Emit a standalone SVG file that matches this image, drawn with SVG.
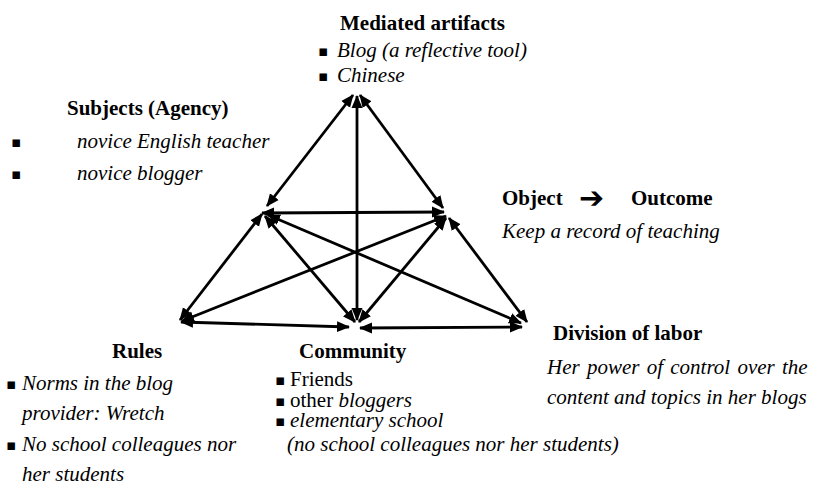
<svg xmlns="http://www.w3.org/2000/svg" width="819" height="486" viewBox="0 0 819 486" font-family="'Liberation Serif', 'Times New Roman', Times, 'DejaVu Serif', serif">
<style>
text{font-family:'Liberation Serif','Times New Roman',Times,'DejaVu Serif',serif;font-size:21px;fill:#000}
.b{font-weight:bold}
.i{font-style:italic}
.bu{font-family:'DejaVu Sans',sans-serif;font-size:15px}
.ar{font-family:'DejaVu Sans',sans-serif;font-size:30px;font-weight:bold}
.ed{fill:none;stroke:#000;stroke-width:2.8;marker-start:url(#ah);marker-end:url(#ah)}
</style>
<defs>
<marker id="ah" markerUnits="userSpaceOnUse" markerWidth="14" markerHeight="12" refX="12" refY="5.5" orient="auto-start-reverse" viewBox="0 0 14 11">
<path d="M0,0 L13,5.5 L0,11 Z" fill="#000"/>
</marker>
</defs>
<rect width="819" height="486" fill="#fff"/>
<g id="connectors">
<path class="ed" d="M353,95 L267,206"/>
<path class="ed" d="M360,95 L443,208"/>
<path class="ed" d="M357,96 L357,320"/>
<path class="ed" d="M262,213 L444,212"/>
<path class="ed" d="M262,214 L180,320"/>
<path class="ed" d="M265,216 L355,322"/>
<path class="ed" d="M268,215 L521,323"/>
<path class="ed" d="M446,216 L182,321"/>
<path class="ed" d="M446,218 L359,322"/>
<path class="ed" d="M449,218 L527,322"/>
<path class="ed" d="M181,322 L349,327"/>
<path class="ed" d="M360,328 L522,327"/>
</g>
<g id="mediated-artifacts">
<text class="b" x="340" y="30">Mediated artifacts</text>
<text class="bu" x="318" y="56">▪</text>
<text class="i" x="337" y="57">Blog (a reflective tool)</text>
<text class="bu" x="318" y="81">▪</text>
<text class="i" x="337" y="82">Chinese</text>
</g>
<g id="subjects">
<text class="b" x="67" y="115">Subjects (Agency)</text>
<text class="bu" x="11" y="147">▪</text>
<text class="i" x="77" y="148">novice English teacher</text>
<text class="bu" x="11" y="179">▪</text>
<text class="i" x="77" y="180">novice blogger</text>
</g>
<g id="object">
<text class="b" x="502" y="205">Object</text>
<text class="ar" x="579" y="208">➔</text>
<text class="b" x="631" y="205">Outcome</text>
<text class="i" x="502" y="238">Keep a record of teaching</text>
</g>
<g id="division-of-labor">
<text class="b" x="553" y="340">Division of labor</text>
<text class="i" x="547" y="374" word-spacing="2">Her power of control over the</text>
<text class="i" x="547" y="404">content and topics in her blogs</text>
</g>
<g id="rules">
<text class="b" x="112" y="358">Rules</text>
<text class="bu" x="6" y="389">▪</text>
<text class="i" x="22" y="390">Norms in the blog</text>
<text class="i" x="22" y="420">provider: Wretch</text>
<text class="bu" x="6" y="450">▪</text>
<text class="i" x="22" y="451">No school colleagues nor</text>
<text class="i" x="22" y="481">her students</text>
</g>
<g id="community">
<text class="b" x="299" y="358">Community</text>
<text class="bu" x="275" y="385">▪</text>
<text x="290" y="386">Friends</text>
<text class="bu" x="275" y="406">▪</text>
<text x="290" y="407">other <tspan class="i">bloggers</tspan></text>
<text class="bu" x="275" y="426">▪</text>
<text class="i" x="290" y="427">elementary school</text>
<text class="i" x="287" y="451">(no school colleagues nor her students)</text>
</g>
</svg>
